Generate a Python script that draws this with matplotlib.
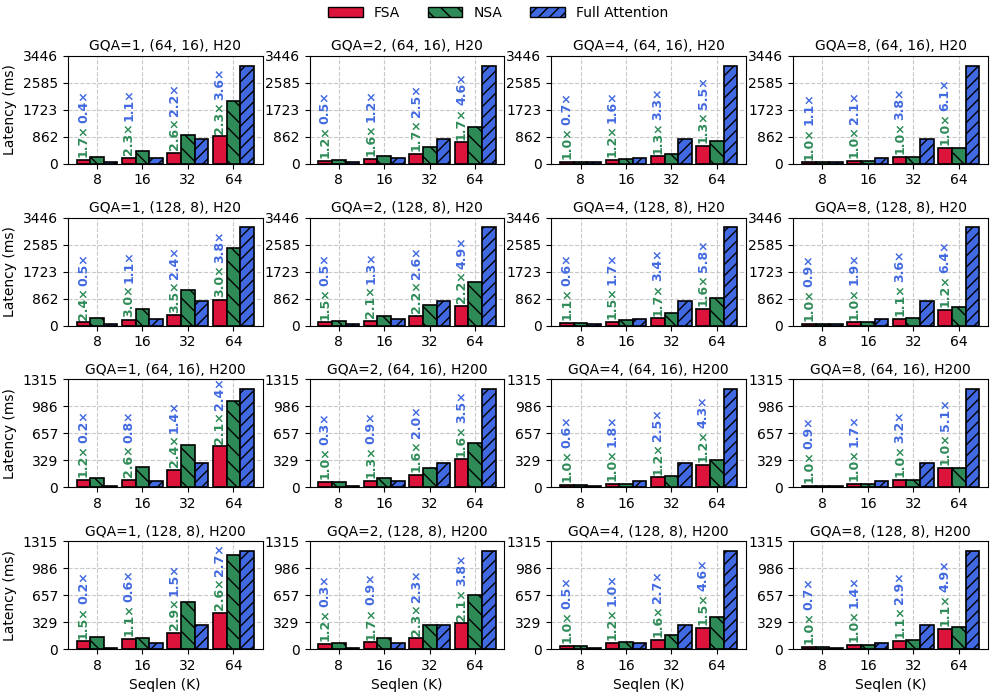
import numpy as np
import matplotlib
matplotlib.use("Agg")
import matplotlib.pyplot as plt
from matplotlib.patches import Patch

seqlens = ["8", "16", "32", "64"]
gqas = [1, 2, 4, 8]
row_configs = [("(64, 16)", "H20"), ("(128, 8)", "H20"), ("(64, 16)", "H200"), ("(128, 8)", "H200")]

# latency (ms), one inner list per GQA setting
fsa_r1 = [[122, 178, 356, 870], [98, 163, 313, 681], [70, 122, 237, 570], [45, 93, 206, 514]]
nsa_r1 = [[208, 410, 925, 2001], [118, 261, 532, 1158], [70, 147, 308, 741], [45, 93, 206, 514]]
full_r1 = [[49, 196, 783, 3133]] * 4

fsa_r2 = [[98, 178, 326, 824], [98, 151, 301, 639], [82, 115, 230, 540], [54, 103, 218, 490]]
nsa_r2 = [[235, 534, 1141, 2472], [147, 317, 662, 1406], [90, 173, 391, 864], [54, 103, 240, 588]]
full_r2 = [[49, 196, 783, 3133]] * 4

fsa_r3 = [[95, 94, 214, 498], [63, 83, 150, 341], [32, 42, 120, 278], [21, 44, 93, 234]]
nsa_r3 = [[114, 244, 514, 1046], [63, 108, 240, 546], [32, 42, 144, 334], [21, 44, 93, 234]]
full_r3 = [[19, 75, 299, 1195.1]] * 4

fsa_r4 = [[95, 125, 199, 443], [63, 83, 130, 314], [38, 75, 111, 260], [27, 54, 103, 244]]
nsa_r4 = [[143, 138, 577, 1152], [76, 141, 299, 660], [38, 90, 178, 390], [27, 54, 113, 268]]
full_r4 = [[19, 75, 299, 1195.1]] * 4

# speedup labels printed above the FSA bars
nsa_speedup = [
    [[1.7, 2.3, 2.6, 2.3], [1.2, 1.6, 1.7, 1.7], [1.0, 1.2, 1.3, 1.3], [1.0, 1.0, 1.0, 1.0]],
    [[2.4, 3.0, 3.5, 3.0], [1.5, 2.1, 2.2, 2.2], [1.1, 1.5, 1.7, 1.6], [1.0, 1.0, 1.1, 1.2]],
    [[1.2, 2.6, 2.4, 2.1], [1.0, 1.3, 1.6, 1.6], [1.0, 1.0, 1.2, 1.2], [1.0, 1.0, 1.0, 1.0]],
    [[1.5, 1.1, 2.9, 2.6], [1.2, 1.7, 2.3, 2.1], [1.0, 1.2, 1.6, 1.5], [1.0, 1.0, 1.1, 1.1]],
]
full_speedup = [
    [[0.4, 1.1, 2.2, 3.6], [0.5, 1.2, 2.5, 4.6], [0.7, 1.6, 3.3, 5.5], [1.1, 2.1, 3.8, 6.1]],
    [[0.5, 1.1, 2.4, 3.8], [0.5, 1.3, 2.6, 4.9], [0.6, 1.7, 3.4, 5.8], [0.9, 1.9, 3.6, 6.4]],
    [[0.2, 0.8, 1.4, 2.4], [0.3, 0.9, 2.0, 3.5], [0.6, 1.8, 2.5, 4.3], [0.9, 1.7, 3.2, 5.1]],
    [[0.2, 0.6, 1.5, 2.7], [0.3, 0.9, 2.3, 3.8], [0.5, 1.0, 2.7, 4.6], [0.7, 1.4, 2.9, 4.9]],
]

fsa_rows = [fsa_r1, fsa_r2, fsa_r3, fsa_r4]
nsa_rows = [nsa_r1, nsa_r2, nsa_r3, nsa_r4]
full_rows = [full_r1, full_r2, full_r3, full_r4]

c_fsa = "#DC143C"
c_nsa = "#2E8B57"
c_full = "#4169E1"
plt.rcParams["hatch.linewidth"] = 1.0
label_fs = 9

# y limit shared per GPU
ymax = {}
for r, (_, hw) in enumerate(row_configs):
    m = max(max(max(v) for v in rows[r]) for rows in (fsa_rows, nsa_rows, full_rows))
    ymax[hw] = max(ymax.get(hw, 0), m * 1.1)

fig, axes = plt.subplots(4, 4, figsize=(9.96, 6.98), dpi=100)
fig.subplots_adjust(left=0.068, right=0.992, top=0.92, bottom=0.07, wspace=0.24, hspace=0.5)

x = np.arange(len(seqlens))
w = 0.3
green_labels = []
for r, (blk, hw) in enumerate(row_configs):
    for c, g in enumerate(gqas):
        ax = axes[r, c]
        ax.set_axisbelow(True)
        ax.grid(True, linestyle="--", color="#c8c8c8", linewidth=0.8)
        ax.bar(x - w, fsa_rows[r][c], w, color=c_fsa, edgecolor="black", linewidth=1.2)
        ax.bar(x, nsa_rows[r][c], w, color=c_nsa, edgecolor="black", linewidth=1.2, hatch="\\\\")
        ax.bar(x + w, full_rows[r][c], w, color=c_full, edgecolor="black", linewidth=1.2, hatch="///")
        for i in range(len(seqlens)):
            t1 = ax.annotate(f"{nsa_speedup[r][c][i]:.1f}×", xy=(x[i] - w, fsa_rows[r][c][i]),
                             xytext=(0, 2), textcoords="offset points", rotation=90,
                             ha="center", va="bottom", fontsize=label_fs, fontweight="bold", color=c_nsa)
            green_labels.append((ax, t1, x[i] - w, fsa_rows[r][c][i], full_speedup[r][c][i]))
        top = ymax[hw]
        ax.set_ylim(0, top)
        ticks = np.linspace(0, top, 5)
        ax.set_yticks(ticks)
        ax.set_yticklabels([f"{t:.0f}" for t in ticks])
        ax.set_xticks(x)
        ax.set_xticklabels(seqlens)
        ax.tick_params(labelsize=10)
        ax.set_title(f"GQA={g}, {blk}, {hw}", fontsize=10, pad=4)
        if c == 0:
            ax.set_ylabel("Latency (ms)", fontsize=10)
        if r == 3:
            ax.set_xlabel("Seqlen (K)", fontsize=10)

# blue label sits right after the green one
fig.canvas.draw()
renderer = fig.canvas.get_renderer()
for ax, t1, xp, yp, sp in green_labels:
    h = t1.get_window_extent(renderer).height * 72 / fig.dpi
    ax.annotate(f"{sp:.1f}×", xy=(xp, yp), xytext=(0, 2 + h + 1), textcoords="offset points",
                rotation=90, ha="center", va="bottom", fontsize=label_fs, fontweight="bold", color=c_full)

handles = [
    Patch(facecolor=c_fsa, edgecolor="black", label="FSA"),
    Patch(facecolor=c_nsa, edgecolor="black", hatch="\\\\", label="NSA"),
    Patch(facecolor=c_full, edgecolor="black", hatch="///", label="Full Attention"),
]
fig.legend(handles=handles, loc="upper center", ncol=3, frameon=False, fontsize=10,
           bbox_to_anchor=(0.5, 1.01), handlelength=2.5, columnspacing=2.0)

plt.savefig("out.png", dpi=100)
